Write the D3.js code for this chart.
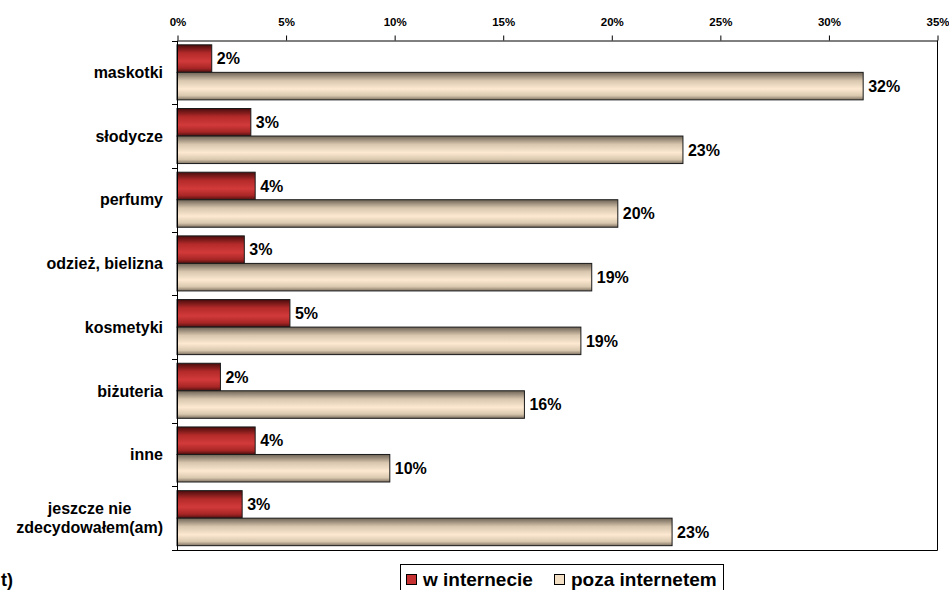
<!DOCTYPE html>
<html>
<head>
<meta charset="utf-8">
<script src="https://cdn.jsdelivr.net/npm/d3@7"></script>
<style>
  html, body { margin: 0; padding: 0; background: #fff; }
  svg { display: block; font-family: Arial, "Liberation Sans", sans-serif; }
</style>
</head>
<body>
<svg id="chart" width="949" height="590"></svg>
<script>
// Gift categories (Polish survey), top to bottom
const categories = [
  "maskotki", "słodycze", "perfumy", "odzież, bielizna",
  "kosmetyki", "biżuteria", "inne", "jeszcze nie\nzdecydowałem(am)"
];
const seriesNames = ["w internecie", "poza internetem"];
// Share of respondents, as fractions
const online  = [0.016, 0.034, 0.036, 0.031, 0.052, 0.020, 0.036, 0.030];
const offline = [0.316, 0.233, 0.203, 0.191, 0.186, 0.160, 0.098, 0.228];
const xTicks = [0, 0.05, 0.10, 0.15, 0.20, 0.25, 0.30, 0.35];

const svg = d3.select("#chart");
const plotLeft = 177, plotRight = 937, plotTop = 40.5, plotBottom = 550;

const x = d3.scaleLinear().domain([0, 0.35]).range([plotLeft, plotRight]);
const y0 = d3.scaleBand().domain(categories).range([plotTop, plotBottom]).padding(0);
const y1 = d3.scaleBand().domain(seriesNames).range([0, y0.bandwidth()])
  .paddingInner(0).paddingOuter(0.157);

// Cylinder-like vertical shading for both series
const defs = svg.append("defs");
function shade(id, stops) {
  const g = defs.append("linearGradient").attr("id", id)
    .attr("x1", 0).attr("y1", 0).attr("x2", 0).attr("y2", 1);
  stops.forEach(([o, c]) => g.append("stop").attr("offset", o).attr("stop-color", c));
}
shade("gRed", [[0, "#4a0c0c"], [0.3, "#b42a2a"], [0.6, "#d23a3a"], [0.85, "#a82626"], [1, "#4e1010"]]);
shade("gBeige", [[0, "#6e6355"], [0.3, "#d8c6ae"], [0.6, "#fde9d1"], [0.85, "#d9c7ae"], [1, "#7e7262"]]);
const fills = { "w internecie": "url(#gRed)", "poza internetem": "url(#gBeige)" };
const swatch = { "w internecie": "#c63232", "poza internetem": "#f3dfc4" };

// Bars
const rows = categories.map((c, i) => ({ cat: c, values: [
  { s: seriesNames[0], v: online[i] }, { s: seriesNames[1], v: offline[i] }
]}));
const groups = svg.append("g").selectAll("g").data(rows).join("g")
  .attr("transform", d => `translate(0,${y0(d.cat)})`);
groups.selectAll("rect").data(d => d.values).join("rect")
  .attr("x", x(0))
  .attr("y", d => y1(d.s))
  .attr("width", d => x(d.v) - x(0))
  .attr("height", y1.bandwidth())
  .attr("fill", d => fills[d.s])
  .attr("stroke", "#1a1a1a")
  .attr("stroke-width", 1);
groups.selectAll("text").data(d => d.values).join("text")
  .attr("x", d => x(d.v) + 5)
  .attr("y", d => y1(d.s) + y1.bandwidth() / 2)
  .attr("dy", "0.36em")
  .attr("font-size", 16).attr("font-weight", "bold").attr("fill", "#000")
  .text(d => d3.format(".0%")(d.v));

// Plot frame: right edge, bottom edge, left edge
const frame = svg.append("g").attr("stroke", "#000").attr("stroke-width", 1).attr("fill", "none");
frame.append("line").attr("x1", plotRight + 0.5).attr("x2", plotRight + 0.5).attr("y1", plotTop).attr("y2", plotBottom + 0.5);
frame.append("line").attr("x1", plotLeft - 5).attr("x2", plotRight + 0.5).attr("y1", plotBottom + 0.5).attr("y2", plotBottom + 0.5);
frame.append("line").attr("x1", plotLeft + 0.5).attr("x2", plotLeft + 0.5).attr("y1", plotTop).attr("y2", plotBottom + 0.5);

// Top percentage axis
const xAxis = svg.append("g").attr("transform", `translate(0.5,${plotTop})`)
  .call(d3.axisTop(x).tickValues(xTicks).tickFormat(d3.format(".0%")).tickSize(5).tickPadding(10).tickSizeOuter(0));
xAxis.select(".domain").attr("stroke", "#000");
xAxis.selectAll(".tick line").attr("stroke", "#000");
xAxis.selectAll(".tick text").attr("font-size", 11.5).attr("font-weight", "bold")
  .attr("font-family", "Arial, 'Liberation Sans', sans-serif").attr("fill", "#000");

// Category boundary ticks on the left edge
const bounds = categories.map(c => y0(c)).concat([y0(categories[categories.length - 1]) + y0.bandwidth()]);
svg.append("g").selectAll("line").data(bounds).join("line")
  .attr("x1", plotLeft - 5).attr("x2", plotLeft).attr("y1", d => Math.round(d) + 0.5).attr("y2", d => Math.round(d) + 0.5)
  .attr("stroke", "#000");

// Category labels, multi-line ones centred as a block
const labelRight = 163;
const labels = svg.append("g").selectAll("text").data(categories).join("text")
  .attr("font-size", 16).attr("font-weight", "bold").attr("fill", "#000");
labels.each(function (c) {
  const t = d3.select(this);
  const lines = c.split("\n");
  const cy = y0(c) + y0.bandwidth() / 2;
  const lh = 19;
  lines.forEach((ln, i) => {
    t.append("tspan").attr("y", cy + (i - (lines.length - 1) / 2) * lh).attr("dy", "0.36em").text(ln);
  });
  if (lines.length === 1) {
    t.attr("text-anchor", "end").selectAll("tspan").attr("x", labelRight);
  } else {
    const w = d3.max(t.selectAll("tspan").nodes(), n => n.getComputedTextLength());
    t.attr("text-anchor", "middle").selectAll("tspan").attr("x", labelRight - w / 2);
  }
});

// Legend
const lg = svg.append("g");
lg.append("rect").attr("x", 400.5).attr("y", 564.5).attr("width", 323).attr("height", 40)
  .attr("fill", "#fff").attr("stroke", "#000");
const legendItems = [{ s: seriesNames[0], x: 406 }, { s: seriesNames[1], x: 554 }];
legendItems.forEach(it => {
  lg.append("rect").attr("x", it.x + 0.5).attr("y", 574.5).attr("width", 10).attr("height", 10)
    .attr("fill", swatch[it.s]).attr("stroke", "#000");
  lg.append("text").attr("x", it.x + 17).attr("y", 586)
    .attr("font-size", 19).attr("font-weight", "bold").attr("fill", "#000").text(it.s);
});

// Fragment of the caption below the chart
svg.append("text").attr("x", 1).attr("y", 586).attr("font-size", 18).attr("font-weight", "bold")
  .attr("fill", "#000").text("t)");
</script>
</body>
</html>
